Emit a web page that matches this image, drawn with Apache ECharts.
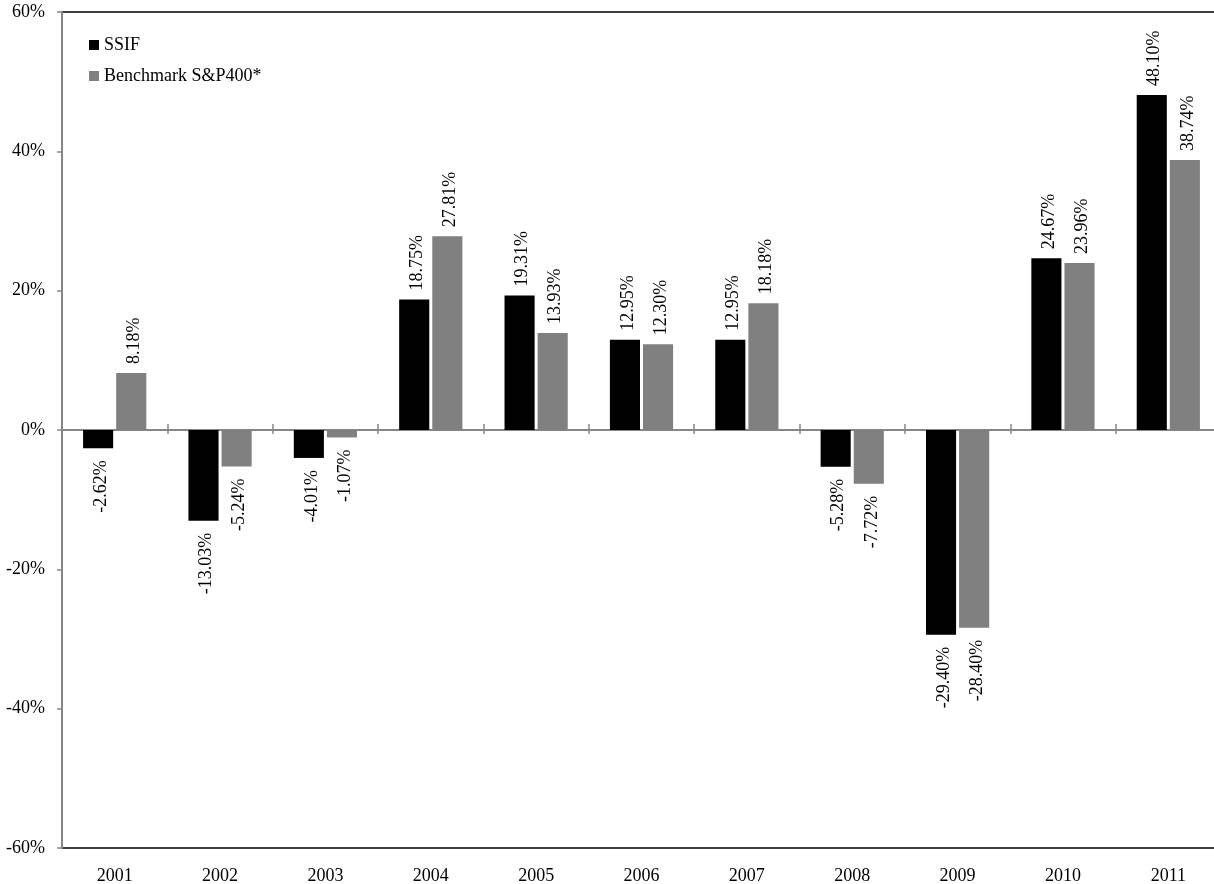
<!DOCTYPE html>
<html>
<head>
<meta charset="utf-8">
<script src="https://cdn.jsdelivr.net/npm/echarts@6/dist/echarts.min.js"></script>
<style>
html,body{margin:0;padding:0;background:#fff;}
#chart{width:1214px;height:884px;}
</style>
</head>
<body>
<div id="chart"></div>
<script>
const years = ['2001','2002','2003','2004','2005','2006','2007','2008','2009','2010','2011'];
const ssif = [-2.62, -13.03, -4.01, 18.75, 19.31, 12.95, 12.95, -5.28, -29.40, 24.67, 48.10];
const benchmark = [8.18, -5.24, -1.07, 27.81, 13.93, 12.30, 18.18, -7.72, -28.40, 23.96, 38.74];
const seriesNames = ['SSIF', 'Benchmark S&P400*'];

const FONT = "'Liberation Serif', 'Times New Roman', serif";

function withLabels(arr) {
  return arr.map(v => ({
    value: v,
    label: v >= 0
      ? { position: 'top', distance: 9, align: 'left', verticalAlign: 'middle' }
      : { position: 'bottom', distance: 12, align: 'right', verticalAlign: 'middle' }
  }));
}

const labelBase = {
  show: true,
  rotate: 90,
  offset: [0, 3],
  color: '#000',
  fontFamily: FONT,
  fontSize: 18,
  formatter: p => p.value.toFixed(2) + '%'
};

const chart = echarts.init(document.getElementById('chart'));
chart.setOption({
  backgroundColor: '#fff',
  animation: false,
  textStyle: { fontFamily: FONT },
  grid: {
    left: 62, top: 12, bottom: 36, width: 1159,
    outerBoundsMode: 'none', containLabel: false,
    show: true, borderColor: '#000', borderWidth: 1.5, backgroundColor: 'transparent'
  },
  legend: {
    orient: 'vertical',
    left: 84, top: 31,
    itemWidth: 10, itemHeight: 10, itemGap: 13,
    icon: 'rect',
    textStyle: { fontFamily: FONT, fontSize: 18, color: '#000' },
    data: seriesNames
  },
  xAxis: [
    {
      type: 'category', data: years, position: 'bottom',
      axisLine: { show: true, onZero: true, onZeroAxisIndex: 0, lineStyle: { color: '#868686', width: 2 } },
      axisTick: { show: true, length: 4, lineStyle: { color: '#868686', width: 1.5 } },
      axisLabel: { show: false }
    },
    {
      type: 'category', data: years, position: 'bottom',
      axisLine: { show: false, onZero: false },
      axisTick: { show: false },
      axisLabel: { show: true, color: '#000', fontFamily: FONT, fontSize: 18, margin: 19 }
    },
    {
      type: 'category', data: years, position: 'top',
      axisLine: { show: false, onZero: true, onZeroAxisIndex: 1 },
      axisTick: { show: true, length: 6, lineStyle: { color: '#868686', width: 1.5 } },
      axisLabel: { show: false }
    }
  ],
  yAxis: [
    {
      type: 'value', min: -60, max: 60, interval: 20,
      axisLine: { show: true, lineStyle: { color: '#868686', width: 2 } },
      axisTick: { show: true, length: 5, lineStyle: { color: '#868686', width: 1.5 } },
      splitLine: { show: false },
      axisLabel: { color: '#000', fontFamily: FONT, fontSize: 18, margin: 17, formatter: '{value}%' }
    },
    {
      type: 'value', min: -60, max: 60, interval: 20, position: 'right',
      axisLine: { show: false }, axisTick: { show: false }, axisLabel: { show: false },
      splitLine: { show: false }
    }
  ],
  series: [
    {
      name: seriesNames[0], type: 'bar', xAxisIndex: 0, yAxisIndex: 0,
      data: withLabels(ssif),
      barGap: '10%', barCategoryGap: '40%',
      itemStyle: { color: '#000' },
      label: labelBase
    },
    {
      name: seriesNames[1], type: 'bar', xAxisIndex: 0, yAxisIndex: 0,
      data: withLabels(benchmark),
      barGap: '10%', barCategoryGap: '40%',
      itemStyle: { color: '#808080' },
      label: labelBase
    }
  ]
});
</script>
</body>
</html>
